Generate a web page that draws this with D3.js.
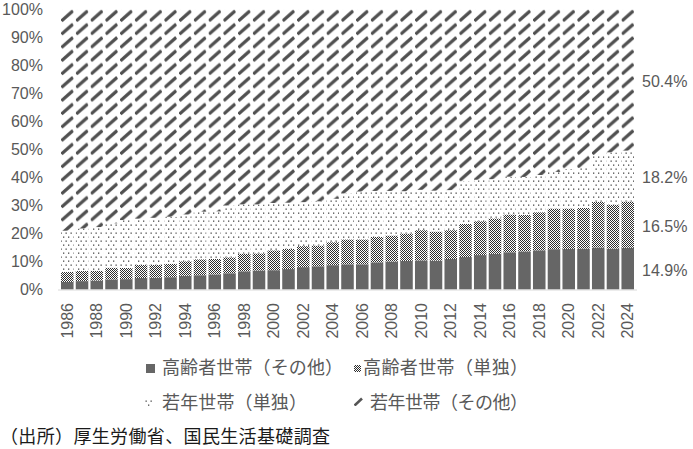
<!DOCTYPE html>
<html><head><meta charset="utf-8">
<script src="https://cdn.jsdelivr.net/npm/d3@7"></script>
<style>
html,body{margin:0;padding:0;background:#fff;}
svg{display:block;font-family:"Noto Sans CJK JP","Noto Sans",sans-serif;}
</style></head>
<body><svg id="c" width="693" height="449"></svg>
<script>
const years = d3.range(1986, 2025).map(String);
const seriesNames = ["高齢者世帯（その他）","高齢者世帯（単独）","若年世帯（単独）","若年世帯（その他）"];
const elderlyOther = [2.7,3.0,3.2,3.6,3.7,4.1,4.2,4.4,4.9,5.1,
  5.4,5.8,6.5,6.8,6.9,7.3,8.0,8.3,8.7,9.0,
  9.0,9.7,10.0,10.2,10.4,10.3,10.9,11.6,12.3,12.7,
  13.3,13.6,14.0,14.4,14.5,14.6,15.0,14.6,14.9];
const elderlySingle = [3.6,3.6,3.5,4.2,4.0,4.7,4.6,4.8,5.2,5.7,
  5.5,5.7,6.3,6.1,7.1,7.2,7.5,7.4,8.2,8.9,
  8.9,9.1,9.3,9.8,10.8,10.4,10.3,11.8,12.1,12.7,
  13.5,13.0,13.6,14.5,14.4,14.5,16.3,15.7,16.5];
const youngSingle = [14.7,15.2,15.6,15.8,17.1,16.5,16.8,16.8,16.7,17.0,
  17.0,18.5,17.6,17.5,16.9,16.5,15.7,15.8,15.5,16.4,
  17.1,16.4,15.9,15.1,14.4,14.6,14.3,15.2,14.8,14.0,
  13.5,13.6,13.3,13.1,14.1,14.3,16.7,18.7,18.2];
const youngOther = [79.0,78.2,77.7,76.4,75.2,74.7,74.4,74.0,73.2,72.2,
  72.1,70.0,69.6,69.6,69.1,69.0,68.8,68.5,67.6,65.7,
  65.0,64.8,64.8,64.9,64.4,64.7,64.5,61.4,60.8,60.6,
  59.7,59.8,59.1,58.0,57.0,56.6,52.0,51.0,50.4];
const yTicks = [0,10,20,30,40,50,60,70,80,90,100];
const xTickYears = years.filter((d,i)=>i%2===0);
const sourceText = "（出所）厚生労働省、国民生活基礎調査";

const seriesData = [elderlyOther, elderlySingle, youngSingle, youngOther];
const rows = years.map((y,i)=>{const r={year:y}; seriesNames.forEach((k,j)=>r[k]=seriesData[j][i]); return r;});
const stacked = d3.stack().keys(seriesNames)(rows);

const svg = d3.select("#c");
const textCol = "#595959";
const numFont = '"Liberation Sans",Arial,sans-serif';
const x = d3.scaleBand().domain(years).range([61,634]).paddingInner(0.15).paddingOuter(0);
const y = d3.scaleLinear().domain([0,100]).range([289.5,9.5]);

// patterns
const defs = svg.append("defs");
const step = x.step();
const p1 = defs.append("pattern").attr("id","pCheck").attr("patternUnits","userSpaceOnUse")
  .attr("width",2).attr("height",2);
p1.append("rect").attr("width",2).attr("height",2).attr("fill","#fff");
p1.append("rect").attr("x",0).attr("y",0).attr("width",1).attr("height",1).attr("fill","#2e2e2e");
p1.append("rect").attr("x",1).attr("y",1).attr("width",1).attr("height",1).attr("fill","#2e2e2e");

const p2 = defs.append("pattern").attr("id","pDot").attr("patternUnits","userSpaceOnUse")
  .attr("width",5).attr("height",8);
p2.append("rect").attr("width",5).attr("height",8).attr("fill","#fff");
p2.append("rect").attr("x",0.5).attr("y",0.5).attr("width",1.3).attr("height",1.3).attr("fill","#4a4a4a");
p2.append("rect").attr("x",3).attr("y",4.5).attr("width",1.3).attr("height",1.3).attr("fill","#4a4a4a");

const p3 = defs.append("pattern").attr("id","pHatch").attr("patternUnits","userSpaceOnUse")
  .attr("x",x(years[0])).attr("y",9.5).attr("width",step).attr("height",13.3);
p3.append("rect").attr("width",step).attr("height",13.3).attr("fill","#fff");
p3.append("line").attr("x1",0.5).attr("y1",11.5).attr("x2",12).attr("y2",1.3)
  .attr("stroke","#505050").attr("stroke-width",3.2);

const p4 = defs.append("pattern").attr("id","pHatchL").attr("patternUnits","userSpaceOnUse")
  .attr("x",354).attr("y",397).attr("width",10).attr("height",10);
p4.append("line").attr("x1",0.5).attr("y1",8.5).attr("x2",8).attr("y2",1.5)
  .attr("stroke","#555").attr("stroke-width",2.6);

const fills = ["#666666","url(#pCheck)","url(#pDot)","url(#pHatch)"];

// bars
svg.append("g").selectAll("g").data(stacked).join("g")
  .attr("fill",(d,i)=>fills[i])
  .selectAll("rect").data(d=>d).join("rect")
  .attr("x",d=>x(d.data.year)).attr("width",x.bandwidth())
  .attr("y",d=>y(d[1])).attr("height",d=>y(d[0])-y(d[1]));

// baseline
svg.append("line").attr("x1",58).attr("x2",637).attr("y1",y(0)+0.5).attr("y2",y(0)+0.5)
  .attr("stroke","#d9d9d9").attr("stroke-width",1);

// y axis labels
const yAxis = d3.axisLeft(y).tickValues(yTicks).tickFormat(d=>d+"%").tickSize(0).tickPadding(0);
const gy = svg.append("g").attr("transform","translate(43,0)").call(yAxis);
gy.select(".domain").remove();
gy.selectAll("text").attr("fill",textCol).style("font-size","16px").style("font-family",numFont);

// x axis labels
const xAxis = d3.axisBottom(x).tickValues(xTickYears).tickSize(0).tickPadding(0);
const gx = svg.append("g").attr("transform","translate(0,303)").call(xAxis);
gx.select(".domain").remove();
gx.selectAll("text").attr("fill",textCol).style("font-size","16px").style("font-family",numFont)
  .attr("transform","rotate(-90)").attr("text-anchor","end")
  .attr("x",0).attr("y",0).attr("dx",0).attr("dy","0.35em");

// right end labels
const last = years.length-1;
svg.append("g").selectAll("text").data(stacked).join("text")
  .attr("x",642).attr("y",d=>y((d[last][0]+d[last][1])/2)+1.5)
  .attr("dy","0.35em").attr("fill",textCol).style("font-size","16px").style("font-family",numFont)
  .text(d=>d3.format(".1f")(d[last][1]-d[last][0])+"%");

// legend
const legendPos = [
  {sx:146, sy:364, sw:9, tx:162, ty:368, w:181},
  {sx:354, sy:365, sw:7, tx:363, ty:368, w:165},
  {sx:145, sy:398, sw:8, tx:162, ty:403, w:145},
  {sx:354, sy:397, sw:9, tx:370, ty:403, w:158}
];
const legendFills = ["#666666","url(#pCheck)","url(#pDot)","url(#pHatchL)"];
const lg = svg.append("g");
seriesNames.forEach((name,i)=>{
  const p = legendPos[i];
  lg.append("rect").attr("x",p.sx).attr("y",p.sy).attr("width",p.sw).attr("height",p.sw).attr("fill",legendFills[i]);
  lg.append("text").attr("x",p.tx).attr("y",p.ty).attr("dy","0.35em").attr("fill",textCol)
    .attr("textLength",p.w).attr("lengthAdjust","spacing")
    .style("font-size","18px").text(name);
});

// source
svg.append("text").attr("x",0).attr("y",437).attr("dy","0.35em").attr("fill","#1a1a1a")
  .attr("textLength",330).attr("lengthAdjust","spacing")
  .style("font-size","18px").text(sourceText);
</script></body></html>
